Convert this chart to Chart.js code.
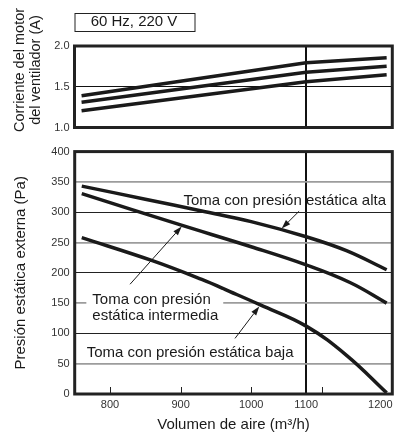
<!DOCTYPE html>
<html>
<head>
<meta charset="utf-8">
<script src="https://cdn.jsdelivr.net/npm/chart.js@4.4.1/dist/chart.umd.min.js"></script>
<style>
  html, body { margin: 0; padding: 0; background: #fff; }
  #wrap { position: relative; width: 398px; height: 432px; }
  canvas { position: absolute; left: 0; }
  #current { top: 0; }
  #pressure { top: 140px; }
</style>
</head>
<body>
<div id="wrap">
  <canvas id="current" width="398" height="140"></canvas>
  <canvas id="pressure" width="398" height="292"></canvas>
</div>
<script>
const FONT = "'Liberation Sans', Arial, Helvetica, sans-serif";
const INK = '#1a1a1a';

// Fan motor current (A) against air volume (m³/h)
const currentFlow = [760, 1078, 1192];
const currentHigh = [1.39, 1.795, 1.856];
const currentMid  = [1.309, 1.677, 1.751];
const currentLow  = [1.206, 1.562, 1.648];

// External static pressure (Pa) against air volume (m³/h)
const highFlow     = [760, 850, 930, 1000, 1078, 1135, 1192];
const highPressure = [343, 321.5, 302, 284.5, 259.5, 236.5, 205];
const midFlow      = [760, 900, 1000, 1078, 1140, 1192];
const midPressure  = [330.6, 279, 243, 213, 184, 150];
const lowFlow      = [760, 860, 930, 970, 1013, 1078, 1136, 1192];
const lowPressure  = [258, 220, 189, 169, 147, 112, 63, 2];

// Axis ticks
const flowTickMarks   = [800, 900, 1000, 1100];
const flowLabelValues = [800, 900, 1000, 1078, 1183];
const flowLabels      = ['800', '900', '1000', '1100', '1200'];
const ratedFlow       = 1078;
const currentTicks    = [1.0, 1.5, 2.0];
const pressureTicks   = [0, 50, 100, 150, 200, 250, 300, 350, 400];

const supplyCaption = '60 Hz, 220 V';
const currentTitle  = ['Corriente del motor', 'del ventilador (A)'];
const pressureTitle = 'Presión estática externa (Pa)';
const flowTitle     = 'Volumen de aire (m³/h)';

// Curve captions (anchor in data units: air volume, pressure) and their pointers
const captions = [
  { lines: ['Toma con presión estática alta'], at: [904, 311.1] },
  { lines: ['Toma con presión', 'estática intermedia'], at: [775, 149.3], boxed: true },
  { lines: ['Toma con presión estática baja'], at: [767, 61.4] }
];
const pointers = [
  { from: [1068, 301.7], to: [1043.3, 273] },
  { from: [828.4, 181.1], to: [901.6, 276.5] },
  { from: [977.1, 91.7], to: [1011.5, 144.5] }
];

const pts = (xs, ys) => xs.map((x, i) => ({ x, y: ys[i] }));

const frame = {
  id: 'frame',
  afterDatasetsDraw(chart) {
    const { ctx, chartArea: a } = chart;
    ctx.save();
    ctx.strokeStyle = '#222';
    ctx.lineWidth = 3;
    ctx.strokeRect(a.left, a.top, a.right - a.left, a.bottom - a.top);
    ctx.restore();
  }
};

const currentDecor = {
  id: 'currentDecor',
  afterDraw(chart) {
    const { ctx, chartArea: a } = chart;
    ctx.save();
    // supply box
    ctx.strokeStyle = '#222';
    ctx.lineWidth = 1;
    ctx.strokeRect(a.left + 0.5, 13.5, 120, 18);
    ctx.fillStyle = INK;
    ctx.font = '15px ' + FONT;
    ctx.textAlign = 'center';
    ctx.textBaseline = 'middle';
    ctx.fillText(supplyCaption, a.left + 59.5, 22);
    // rotated two-line axis title
    ctx.font = '14.5px ' + FONT;
    [19.5, 35.5].forEach((x, i) => {
      ctx.save();
      ctx.translate(x, 70);
      ctx.rotate(-Math.PI / 2);
      ctx.fillText(currentTitle[i], 0, 0);
      ctx.restore();
    });
    ctx.restore();
  }
};

const pressureDecor = {
  id: 'pressureDecor',
  afterDatasetsDraw(chart) {
    const { ctx, chartArea: a } = chart;
    const xs = chart.scales.x, ys = chart.scales.y;
    ctx.save();
    // inward tick marks on the air volume axis
    ctx.strokeStyle = '#222';
    ctx.lineWidth = 1;
    flowTickMarks.forEach(v => {
      const x = Math.round(xs.getPixelForValue(v)) + 0.5;
      ctx.beginPath();
      ctx.moveTo(x, a.bottom - 1);
      ctx.lineTo(x, a.bottom - 7);
      ctx.stroke();
    });
    // captions
    ctx.font = '15px ' + FONT;
    ctx.textAlign = 'left';
    ctx.textBaseline = 'alphabetic';
    const lh = 16;
    captions.forEach(c => {
      const x = xs.getPixelForValue(c.at[0]);
      const y = ys.getPixelForValue(c.at[1]);
      if (c.boxed) {
        const w = Math.max(...c.lines.map(l => ctx.measureText(l).width));
        ctx.fillStyle = '#fff';
        ctx.fillRect(x - 6, y - 13, w + 11, lh * (c.lines.length - 1) + 18);
      }
      ctx.fillStyle = INK;
      c.lines.forEach((l, i) => ctx.fillText(l, x, y + i * lh));
    });
    // pointers with arrow heads
    ctx.strokeStyle = INK;
    ctx.fillStyle = INK;
    ctx.lineWidth = 1;
    pointers.forEach(p => {
      const x0 = xs.getPixelForValue(p.from[0]), y0 = ys.getPixelForValue(p.from[1]);
      const x1 = xs.getPixelForValue(p.to[0]), y1 = ys.getPixelForValue(p.to[1]);
      const ang = Math.atan2(y1 - y0, x1 - x0);
      const hl = 9, hw = 3;
      const bx = x1 - hl * Math.cos(ang), by = y1 - hl * Math.sin(ang);
      ctx.beginPath();
      ctx.moveTo(x0, y0);
      ctx.lineTo(bx, by);
      ctx.stroke();
      ctx.beginPath();
      ctx.moveTo(x1, y1);
      ctx.lineTo(bx + hw * Math.sin(ang), by - hw * Math.cos(ang));
      ctx.lineTo(bx - hw * Math.sin(ang), by + hw * Math.cos(ang));
      ctx.closePath();
      ctx.fill();
    });
    ctx.restore();
  }
};

const lineStyle = { borderColor: INK, borderWidth: 3.5, borderCapStyle: 'butt', borderJoinStyle: 'round' };
const tickFont = { family: FONT, size: 11 };

new Chart(document.getElementById('current'), {
  type: 'line',
  data: {
    datasets: [
      { label: 'alta', data: pts(currentFlow, currentHigh) },
      { label: 'intermedia', data: pts(currentFlow, currentMid) },
      { label: 'baja', data: pts(currentFlow, currentLow) }
    ]
  },
  options: {
    responsive: false, animation: false, events: [],
    layout: { padding: { top: 46, right: 5.7, left: 0, bottom: 0 } },
    elements: { line: Object.assign({ tension: 0 }, lineStyle), point: { radius: 0 } },
    plugins: { legend: { display: false }, tooltip: { enabled: false } },
    scales: {
      x: {
        type: 'linear', min: 750, max: 1200,
        afterFit(s) { s.height = 12.5; },
        afterBuildTicks(s) { s.ticks = [{ value: ratedFlow }]; },
        ticks: { display: false },
        grid: { color: '#111', lineWidth: 2, drawTicks: false },
        border: { display: false }
      },
      y: {
        type: 'linear', min: 1, max: 2,
        afterFit(s) { s.width = 74.5; },
        afterBuildTicks(s) { s.ticks = currentTicks.map(v => ({ value: v })); },
        ticks: { callback: v => v.toFixed(1), padding: 5, color: '#333', font: tickFont },
        grid: { color: '#111', lineWidth: 1, drawTicks: false },
        border: { display: false }
      }
    }
  },
  plugins: [frame, currentDecor]
});

new Chart(document.getElementById('pressure'), {
  type: 'line',
  data: {
    datasets: [
      { label: 'alta', data: pts(highFlow, highPressure) },
      { label: 'intermedia', data: pts(midFlow, midPressure) },
      { label: 'baja', data: pts(lowFlow, lowPressure) }
    ]
  },
  options: {
    responsive: false, animation: false, events: [],
    layout: { padding: { top: 11, right: 5.7, left: 0, bottom: 0 } },
    elements: { line: Object.assign({ tension: 0.4 }, lineStyle), point: { radius: 0 } },
    plugins: { legend: { display: false }, tooltip: { enabled: false } },
    scales: {
      x: {
        type: 'linear', min: 750, max: 1200,
        afterFit(s) { s.height = 38; },
        afterBuildTicks(s) { s.ticks = flowLabelValues.map(v => ({ value: v })); },
        ticks: {
          autoSkip: false, maxRotation: 0, padding: 4, color: '#333', font: tickFont,
          callback: (v, i) => flowLabels[i]
        },
        grid: {
          color: c => (c.tick && c.tick.value === ratedFlow) ? '#111' : 'rgba(0,0,0,0)',
          lineWidth: 2, drawTicks: false
        },
        border: { display: false },
        title: { display: true, text: flowTitle, color: INK, font: { family: FONT, size: 15 }, padding: { top: 0, bottom: -2 } }
      },
      y: {
        type: 'linear', min: 0, max: 400,
        afterFit(s) { s.width = 74.7; },
        afterBuildTicks(s) { s.ticks = pressureTicks.map(v => ({ value: v })); },
        ticks: { padding: 5, color: '#333', font: tickFont },
        grid: {
          color: c => (c.tick && c.tick.value % 100 === 0) ? '#222' : '#9c9c9c',
          lineWidth: c => (c.tick && c.tick.value % 100 === 0) ? 1 : 1.8,
          drawTicks: false
        },
        border: { display: false },
        title: { display: true, text: pressureTitle, color: INK, font: { family: FONT, size: 15 }, padding: { top: 11.5, bottom: 0 } }
      }
    }
  },
  plugins: [frame, pressureDecor]
});
</script>
</body>
</html>
